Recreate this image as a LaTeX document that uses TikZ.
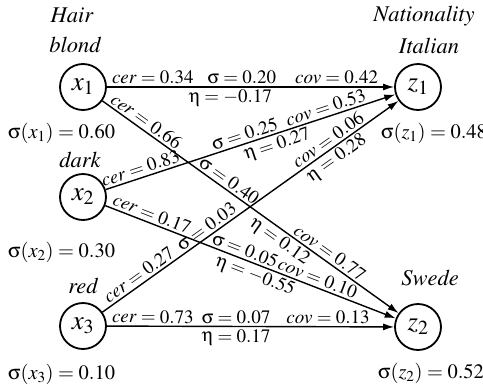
\documentclass[tikz,border=0pt]{standalone}
\usepackage[T1]{fontenc}
\usepackage{mathptmx}
\usepackage[Symbol]{upgreek}
\usetikzlibrary{arrows.meta}
\begin{document}
\begin{tikzpicture}[x=1pt,y=-1pt,
  var/.style={circle,draw,line width=1.8pt,minimum size=46pt,inner sep=0pt,font=\fontsize{27}{29}\selectfont},
  edge/.style={line width=1.4pt,-{Latex[length=11pt,width=7pt]}},
  lab/.style={font=\fontsize{19}{21}\selectfont,inner sep=2.2pt,sloped},
  ttl/.style={font=\fontsize{22.5}{24}\selectfont\itshape,anchor=base,inner sep=0pt},
  sig/.style={font=\fontsize{20.5}{23}\selectfont,anchor=base west,inner sep=0pt}]
\useasboundingbox (0,0) rectangle (483,389);

\node[var] (x1) at (83,87) {$x_1$};
\node[var] (x2) at (83,197) {$x_2$};
\node[var] (x3) at (83,326) {$x_3$};
\node[var] (z1) at (418,87) {$z_1$};
\node[var] (z2) at (418,327) {$z_2$};

\node[ttl] (thair) at (72,22) {Hair};
\node[ttl] (tblond) at (75,52) {blond};
\node[ttl] (tdark) at (80,167) {dark};
\node[ttl] (tred) at (83,293) {red};
\node[ttl] (tnat) at (424,21) {Nationality};
\node[ttl] (tital) at (429,53) {Italian};
\node[ttl] (tswede) at (430,285) {Swede};

\node[sig] (sx1) at (8,138) {$\upsigma(x_1)=0.60$};
\node[sig] (sx2) at (8,257) {$\upsigma(x_2)=0.30$};
\node[sig] (sx3) at (8,379) {$\upsigma(x_3)=0.10$};
\node[sig] (sz1) at (381,138) {$\upsigma(z_1)=0.48$};
\node[sig] (sz2) at (378,378) {$\upsigma(z_2)=0.52$};

\draw[edge] (x1) -- (z1)
  node[lab,above,pos=0.16] (l11a) {$\mathit{cer}=0.34$}
  node[lab,above,pos=0.47] (l11b) {$\upsigma=0.20$}
  node[lab,below,pos=0.43] (l11c) {$\upeta=-0.17$}
  node[lab,above,pos=0.80] (l11d) {$\mathit{cov}=0.42$};
\draw[edge] (x1) -- (z2)
  node[lab,above,pos=0.13] (l12a) {$\mathit{cer}=0.66$}
  node[lab,above,pos=0.41] (l12b) {$\upsigma=0.40$}
  node[lab,below,pos=0.62] (l12c) {$\upeta=0.12$}
  node[lab,above,pos=0.75] (l12d) {$\mathit{cov}=0.77$};
\draw[edge] (x2) -- (z1)
  node[lab,above,pos=0.13] (l21a) {$\mathit{cer}=0.83$}
  node[lab,above,pos=0.49] (l21b) {$\upsigma=0.25$}
  node[lab,below,pos=0.58] (l21c) {$\upeta=0.27$}
  node[lab,above,pos=0.77] (l21d) {$\mathit{cov}=0.53$};
\draw[edge] (x2) -- (z2)
  node[lab,above,pos=0.15] (l22a) {$\mathit{cer}=0.17$}
  node[lab,above,pos=0.47] (l22b) {$\upsigma=0.05$}
  node[lab,below,pos=0.53] (l22c) {$\upeta=-0.55$}
  node[lab,above,pos=0.72] (l22d) {$\mathit{cov}=0.10$};
\draw[edge] (x3) -- (z1)
  node[lab,above,pos=0.14] (l31a) {$\mathit{cer}=0.27$}
  node[lab,above,pos=0.37] (l31b) {$\upsigma=0.03$}
  node[lab,below,pos=0.77] (l31c) {$\upeta=0.28$}
  node[lab,above,pos=0.78] (l31d) {$\mathit{cov}=0.06$};
\draw[edge] (x3) -- (z2)
  node[lab,above,pos=0.16] (l32a) {$\mathit{cer}=0.73$}
  node[lab,above,pos=0.45] (l32b) {$\upsigma=0.07$}
  node[lab,below,pos=0.45] (l32c) {$\upeta=0.17$}
  node[lab,above,pos=0.77] (l32d) {$\mathit{cov}=0.13$};
\end{tikzpicture}
\end{document}
